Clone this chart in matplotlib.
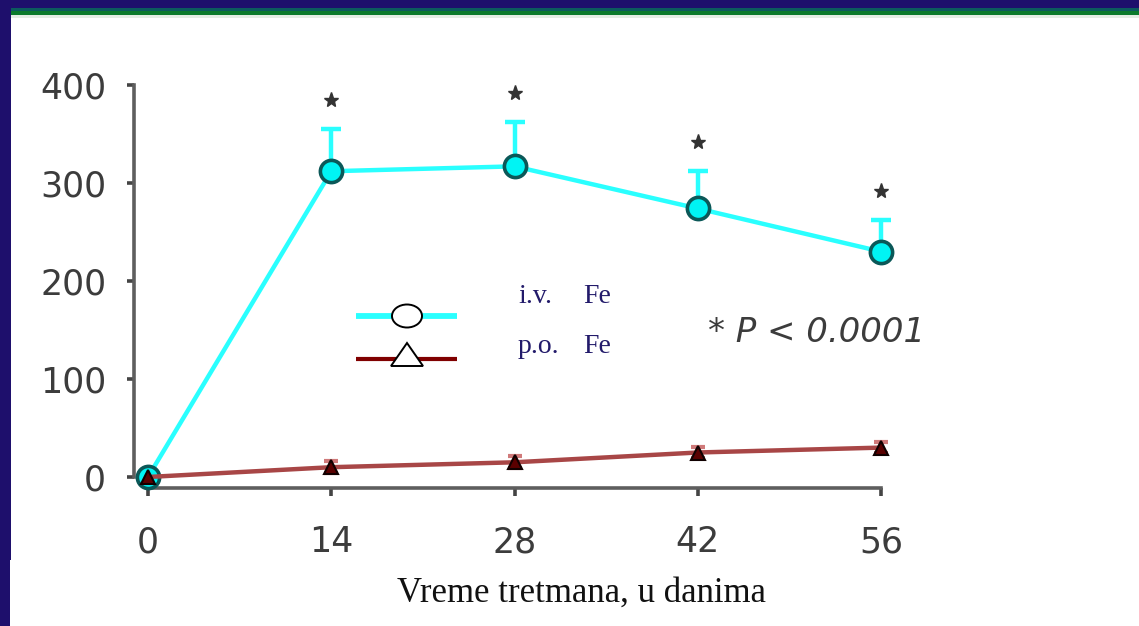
import matplotlib
matplotlib.use("Agg")
import matplotlib.pyplot as plt
from matplotlib.patches import Rectangle, Ellipse, Polygon
from matplotlib.lines import Line2D

# Serum values over the treatment period
days = [0, 14, 28, 42, 56]
iv_fe = [0, 312, 317, 274, 230]
iv_err = [0, 43, 45, 38, 32]
po_fe = [0, 10, 15, 25, 30]
po_err = [0, 6, 6, 6, 6]
sig_days = [14, 28, 42, 56]
x_ticks = [0, 14, 28, 42, 56]
y_ticks = [0, 100, 200, 300, 400]

legend_labels = ["i.v.", "p.o."]
legend_unit = "Fe"
p_note = "* P < 0.0001"
x_label = "Vreme tretmana, u danima"

NAVY = "#1e0f6c"
CYAN = "#2affff"
PO_RED = "#a84646"

W, H = 1139, 626
fig = plt.figure(figsize=(W / 100, H / 100), dpi=100)
fig.patch.set_facecolor("white")

# slide frame: left band and top rule
fig.patches.append(Rectangle((0, 1 - 560 / H), 11 / W, 560 / H, transform=fig.transFigure,
                             color=NAVY, lw=0, zorder=0))
fig.patches.append(Rectangle((0, 0), 10 / W, 1 - 560 / H + 0.001, transform=fig.transFigure,
                             color=NAVY, lw=0, zorder=0))
fig.patches.append(Rectangle((0, 1 - 8 / H), 1, 8 / H, transform=fig.transFigure,
                             color=NAVY, lw=0, zorder=0))
for top, bot, col in [(8, 11, "#0c5a5e"), (11, 15, "#0b7a2c"), (15, 17.5, "#e4ede4")]:
    fig.patches.append(Rectangle((11 / W, 1 - bot / H), 1, (bot - top) / H,
                                 transform=fig.transFigure, color=col, lw=0, zorder=0))

ax = fig.add_axes([0, 0, 1, 1])
ax.set_facecolor("none")
sx = (881 - 148) / 56.0
sy = (477 - 85) / 400.0
ax.set_xlim((0 - 148) / sx, (W - 148) / sx)
ax.set_ylim((477 - H) / sy, 477 / sy)

for s in ("top", "right"):
    ax.spines[s].set_visible(False)
ax.spines["left"].set_position(("data", (134 - 148) / sx))
ax.spines["left"].set_bounds(0, 400)
ax.spines["bottom"].set_position(("data", (477 - 488) / sy))
ax.spines["bottom"].set_bounds(0, 56)
for s in ("left", "bottom"):
    ax.spines[s].set_color("#5e5e5e")
    ax.spines[s].set_linewidth(2.6)

ax.set_xticks(x_ticks)
ax.set_yticks(y_ticks)
ax.set_xticklabels([str(v) for v in x_ticks])
ax.set_yticklabels([str(v) for v in y_ticks])
ax.tick_params(axis="x", direction="out", length=6, width=2.6, color="#444444",
               pad=21, labelsize=25, labelcolor="#3c3c3c")
ax.tick_params(axis="y", direction="out", length=5, width=2.6, color="#444444",
               pad=15, labelsize=25, labelcolor="#3c3c3c")
for lab in ax.get_xticklabels() + ax.get_yticklabels():
    lab.set_family("DejaVu Sans")

# i.v. series with upper error bars
ax.errorbar(days[1:], iv_fe[1:], yerr=[[0] * 4, iv_err[1:]], fmt="none",
            ecolor=CYAN, elinewidth=3.2, capsize=7, capthick=3.2, zorder=3)
ax.plot(days, iv_fe, color=CYAN, lw=3.2, marker="o", ms=16, mfc="#00f4f4",
        mec="#0b5858", mew=2.6, zorder=4)

# p.o. series
ax.errorbar(days[1:], po_fe[1:], yerr=po_err[1:], fmt="none",
            ecolor="#d07a7a", elinewidth=3, capsize=5, capthick=3, zorder=3)
ax.plot(days, po_fe, color=PO_RED, lw=3.2, marker="^", ms=10, mfc="#5a0000",
        mec="#100000", mew=1.5, zorder=5)

# significance marks above the i.v. error bars
ax.plot(sig_days, [iv_fe[days.index(d)] + iv_err[days.index(d)] + 30 for d in sig_days],
        ls="none", marker="*", ms=11, color="#333333", zorder=5)

# legend, drawn by hand
fig.lines.append(Line2D([356 / W, 457 / W], [1 - 316 / H] * 2, transform=fig.transFigure,
                        color=CYAN, lw=4.2, solid_capstyle="butt"))
fig.patches.append(Ellipse((407 / W, 1 - 316 / H), 30 / W, 23 / H, transform=fig.transFigure,
                           fc="white", ec="black", lw=1.4, zorder=3))
fig.lines.append(Line2D([356 / W, 457 / W], [1 - 358.5 / H] * 2, transform=fig.transFigure,
                        color="#800000", lw=3.0, solid_capstyle="butt"))
fig.patches.append(Polygon([(391 / W, 1 - 366 / H), (423 / W, 1 - 366 / H), (407 / W, 1 - 343 / H)],
                           closed=True, transform=fig.transFigure, fc="white", ec="black",
                           lw=1.4, zorder=3))
for lab, base in zip(legend_labels, [303, 353]):
    fig.text(518 / W, 1 - base / H, lab, fontsize=20, family="Liberation Serif",
             color="#221a6a", va="baseline", ha="left")
    fig.text(583 / W, 1 - base / H, legend_unit, fontsize=20, family="Liberation Serif",
             color="#221a6a", va="baseline", ha="left")

fig.text(708 / W, 1 - 333 / H, p_note, fontsize=24.5, family="DejaVu Sans", style="italic",
         color="#3c3c3c", va="center", ha="left")

fig.text(581 / W, 1 - 602 / H, x_label, fontsize=25, family="Liberation Serif",
         color="#111111", va="baseline", ha="center")

fig.savefig("out.png", dpi=100)
